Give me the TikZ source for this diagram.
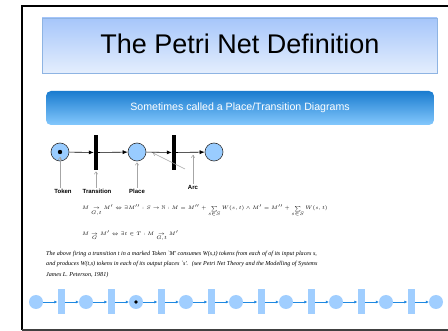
\documentclass[tikz,border=0pt]{standalone}
\usepackage{amsmath,amssymb}
\usepackage{fontspec}
\setmainfont{Liberation Sans}
\newfontfamily\refserif{Liberation Serif}
\usetikzlibrary{arrows.meta}
\usepackage{xcolor}
\definecolor{placeblue}{HTML}{99CCFF}
\definecolor{paleblue}{HTML}{A0CEFF}
\definecolor{chainblue}{HTML}{1E88E0}
\definecolor{titletop}{HTML}{A6C6FA}
\definecolor{titlebot}{HTML}{E4EEFD}
\definecolor{titleedge}{HTML}{8EB4E3}
\definecolor{bartop}{HTML}{1A7CCF}
\definecolor{barbot}{HTML}{84C8FD}

\begin{document}
\begin{tikzpicture}[x=1pt,y=-1pt]
  \tikzset{netplace/.style={circle,fill=placeblue,draw=black!80,line width=0.6pt,inner sep=0pt,minimum size=18pt}}
  \tikzset{nettrans/.style={rectangle,fill=black,inner sep=0pt,minimum width=4pt,minimum height=35pt}}
  \tikzset{netarc/.style={draw=black,line width=0.6pt,-{Latex[length=5pt,width=4pt]}}}
  \tikzset{netnote/.style={draw=gray!70,line width=0.5pt,-{To[length=3pt,width=4pt]}}}
  \tikzset{notelabel/.style={font=\fontsize{6}{7}\selectfont\bfseries,inner sep=1pt}}
  \tikzset{chainplace/.style={circle,fill=paleblue,inner sep=0pt,minimum size=14pt}}
  \tikzset{chaintrans/.style={rectangle,fill=paleblue,inner sep=0pt,minimum width=7pt,minimum height=25pt}}
  \tikzset{chainarc/.style={draw=chainblue,line width=0.6pt,-{Latex[length=3pt,width=3pt]}}}
  \useasboundingbox (0,0) rectangle (448,331);
  \fill[white] (0,0) rectangle (448,331);
  % frame
  \draw[line width=2pt] (452,6) -- (22,6) -- (22,330);
  \draw[line width=1.5pt,black!75] (22,330) -- (452,330);
  % title
  \shade[top color=titletop,bottom color=titlebot] (42,18) rectangle (437,73);
  \draw[titleedge,line width=0.6pt] (42,18) rectangle (437,73);
  \node[font=\fontsize{27}{30}\selectfont,anchor=base] (title) at (240,54) {The Petri Net Definition};
  % subtitle bar
  \shade[top color=bartop,bottom color=barbot,rounded corners=5pt] (46,91) rectangle (434,125);
  \node[font=\fontsize{10.6}{12}\selectfont,text=white] (subtitle) at (240,108) {Sometimes called a Place/Transition Diagrams};
  % small net
  \node[netplace] (p1) at (60,152) {};
  \fill (p1.center) circle (2.2pt);
  \node[nettrans] (t1) at (96,152.5) {};
  \node[netplace] (p2) at (137,152) {};
  \node[nettrans] (t2) at (174,152.5) {};
  \node[netplace] (p3) at (214,152) {};
  \draw[netarc] (p1) -- (t1);
  \draw[netarc] (t1) -- (p2);
  \draw[netarc] (p2) -- (t2);
  \draw[netarc] (t2) -- (p3);
  % notes
  \node[notelabel] (tokenlbl) at (63,191) {Token};
  \node[notelabel] (translbl) at (97,191) {Transition};
  \node[notelabel] (placelbl) at (137,191) {Place};
  \node[notelabel] (arclbl) at (193,187) {Arc};
  \coordinate (tokentip) at (60,157);
  \coordinate (transtip) at (96,171.5);
  \coordinate (placetip) at (137,162.5);
  \coordinate (arcfoot) at (185,169);
  \coordinate (arcA) at (153,153);
  \coordinate (arcB) at (193,155);
  \draw[netnote] (tokenlbl.north -| tokentip) -- (tokentip);
  \draw[netnote] (translbl.north -| transtip) -- (transtip);
  \draw[netnote] (placelbl.north -| placetip) -- (placetip);
  \draw[netnote] (arcfoot) -- (arcA);
  \draw[netnote] (arclbl.north) -- (arcB);
  % formulas
  \node[anchor=west,inner sep=0pt,font=\fontsize{5.3}{6}\selectfont] (firing) at (82,211)
    {$M\underset{G,t}{\to}M'\Leftrightarrow\exists M'':S\to\mathbb{N}:M=M''+\sum\limits_{s\in S}W(s,t)\wedge M'=M''+\sum\limits_{s\in S}W(s,t)$};
  \node[anchor=west,inner sep=0pt,font=\fontsize{5.3}{6}\selectfont] (reach) at (82,236)
    {$M\underset{G}{\to}M'\Leftrightarrow\exists t\in T:M\underset{G,t}{\to}M'$};
  \node[anchor=north west,inner sep=0pt,align=left,font=\refserif\itshape\fontsize{6.1}{10.5}\selectfont] (remark) at (46,251)
    {The above firing a transition t in a marked Token `M' consumes W(s,t) tokens from each of of its input places s,\\
     and produces W(t,s) tokens in each of its output places `s'. \ (see Petri Net Theory and the Modelling of Systems\\
     James L. Peterson, 1981)};
  % chain
  \foreach \i in {0,...,8} {
    \node[chainplace] (c\i) at (36+50*\i,302) {};
  }
  \foreach \i in {0,...,7} {
    \node[chaintrans] (d\i) at (61+50*\i,302) {};
  }
  \fill (c2.center) circle (1.8pt);
  \foreach \i [evaluate=\i as \j using int(\i+1)] in {0,...,7} {
    \draw[chainarc] (c\i) -- (d\i);
    \draw[chainarc] (d\i) -- (c\j);
  }
\end{tikzpicture}
\end{document}
